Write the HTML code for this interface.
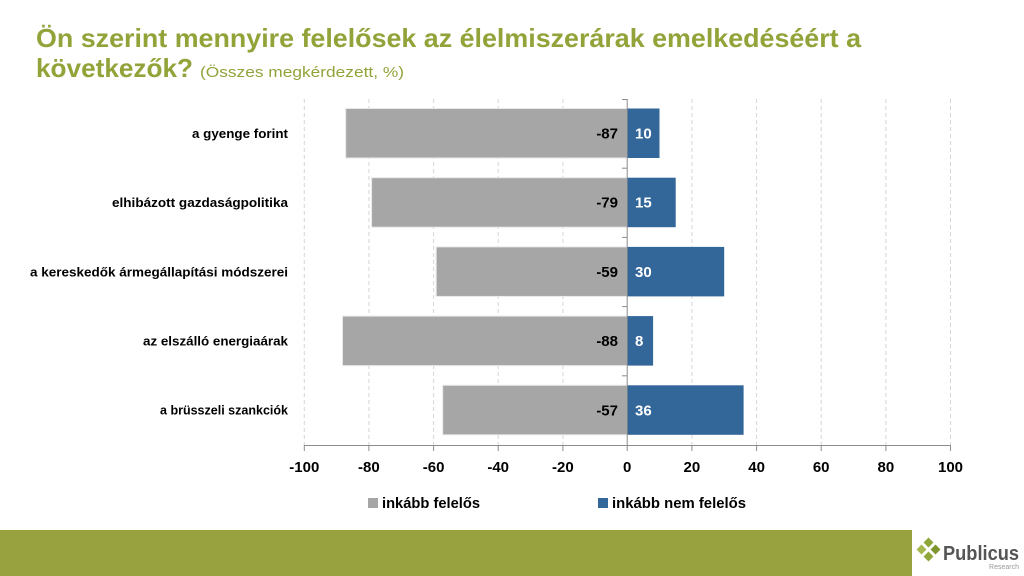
<!DOCTYPE html>
<html><head><meta charset="utf-8"><style>
html,body{margin:0;padding:0;background:#fff;}
svg{display:block;}
text{font-family:"Liberation Sans",sans-serif;}
</style></head><body>
<svg width="1024" height="576" viewBox="0 0 1024 576" xmlns="http://www.w3.org/2000/svg">
<rect width="1024" height="576" fill="#fff"/>
<!-- Title -->
<text x="36" y="47" font-size="26" font-weight="bold" fill="#93A33A" textLength="825" lengthAdjust="spacingAndGlyphs">Ön szerint mennyire felelősek az élelmiszerárak emelkedéséért a</text>
<text x="36" y="77" font-size="26" font-weight="bold" fill="#93A33A" textLength="157" lengthAdjust="spacingAndGlyphs">következők?</text>
<text x="200" y="77" font-size="15" fill="#93A33A" textLength="204" lengthAdjust="spacingAndGlyphs">(Összes megkérdezett, %)</text>

<!-- gridlines -->
<g stroke="#D6D6D6" stroke-width="1" stroke-dasharray="4,3">
<line x1="304.3" y1="99" x2="304.3" y2="445"/>
<line x1="368.9" y1="99" x2="368.9" y2="445"/>
<line x1="433.6" y1="99" x2="433.6" y2="445"/>
<line x1="498.2" y1="99" x2="498.2" y2="445"/>
<line x1="562.9" y1="99" x2="562.9" y2="445"/>
<line x1="691.9" y1="99" x2="691.9" y2="445"/>
<line x1="756.6" y1="99" x2="756.6" y2="445"/>
<line x1="821.2" y1="99" x2="821.2" y2="445"/>
<line x1="885.9" y1="99" x2="885.9" y2="445"/>
<line x1="950.5" y1="99" x2="950.5" y2="445"/>
</g>

<!-- bars -->
<g stroke="#E8E8E8" stroke-width="1">
<rect x="345.7" y="108.5" width="281.5" height="49.5" fill="#A6A6A6"/>
<rect x="371.6" y="177.7" width="255.6" height="49.5" fill="#A6A6A6"/>
<rect x="436.2" y="246.9" width="191.0" height="49.5" fill="#A6A6A6"/>
<rect x="342.5" y="316.1" width="284.7" height="49.5" fill="#A6A6A6"/>
<rect x="442.7" y="385.3" width="184.5" height="49.5" fill="#A6A6A6"/>
</g>
<g fill="#336699">
<rect x="627.2" y="108.5" width="32.3" height="49.5"/>
<rect x="627.2" y="177.7" width="48.5" height="49.5"/>
<rect x="627.2" y="246.9" width="97.0" height="49.5"/>
<rect x="627.2" y="316.1" width="25.9" height="49.5"/>
<rect x="627.2" y="385.3" width="116.4" height="49.5"/>
</g>

<!-- axes -->
<g stroke="#8C8C8C" stroke-width="1">
<line x1="627.2" y1="99" x2="627.2" y2="445"/>
<line x1="622" y1="99.5" x2="627.2" y2="99.5"/>
<line x1="622" y1="168.2" x2="627.2" y2="168.2"/>
<line x1="622" y1="237.4" x2="627.2" y2="237.4"/>
<line x1="622" y1="306.6" x2="627.2" y2="306.6"/>
<line x1="622" y1="375.8" x2="627.2" y2="375.8"/>
<line x1="304" y1="445.5" x2="951" y2="445.5"/>
<line x1="304.3" y1="445" x2="304.3" y2="451"/>
<line x1="368.9" y1="445" x2="368.9" y2="451"/>
<line x1="433.6" y1="445" x2="433.6" y2="451"/>
<line x1="498.2" y1="445" x2="498.2" y2="451"/>
<line x1="562.9" y1="445" x2="562.9" y2="451"/>
<line x1="627.2" y1="445" x2="627.2" y2="451"/>
<line x1="691.9" y1="445" x2="691.9" y2="451"/>
<line x1="756.6" y1="445" x2="756.6" y2="451"/>
<line x1="821.2" y1="445" x2="821.2" y2="451"/>
<line x1="885.9" y1="445" x2="885.9" y2="451"/>
<line x1="950.5" y1="445" x2="950.5" y2="451"/>
</g>

<!-- category labels -->
<g font-size="13" font-weight="bold" fill="#000" text-anchor="end">
<text x="288" y="138" textLength="96" lengthAdjust="spacingAndGlyphs">a gyenge forint</text>
<text x="288" y="207" textLength="176" lengthAdjust="spacingAndGlyphs">elhibázott gazdaságpolitika</text>
<text x="288" y="276.5" textLength="258" lengthAdjust="spacingAndGlyphs">a kereskedők ármegállapítási módszerei</text>
<text x="288" y="345.5" textLength="145" lengthAdjust="spacingAndGlyphs">az elszálló energiaárak</text>
<text x="288" y="414.5" textLength="128" lengthAdjust="spacingAndGlyphs">a brüsszeli szankciók</text>
</g>

<!-- data labels -->
<g font-size="15" font-weight="bold" fill="#000" text-anchor="end">
<text x="618" y="138.5">-87</text>
<text x="618" y="207.7">-79</text>
<text x="618" y="276.9">-59</text>
<text x="618" y="346.1">-88</text>
<text x="618" y="415.3">-57</text>
</g>
<g font-size="15" font-weight="bold" fill="#fff">
<text x="635" y="138.5">10</text>
<text x="635" y="207.7">15</text>
<text x="635" y="276.9">30</text>
<text x="635" y="346.1">8</text>
<text x="635" y="415.3">36</text>
</g>

<!-- tick labels -->
<g font-size="15" font-weight="bold" fill="#000" text-anchor="middle">
<text x="304.3" y="472">-100</text>
<text x="368.9" y="472">-80</text>
<text x="433.6" y="472">-60</text>
<text x="498.2" y="472">-40</text>
<text x="562.9" y="472">-20</text>
<text x="627.2" y="472">0</text>
<text x="691.9" y="472">20</text>
<text x="756.6" y="472">40</text>
<text x="821.2" y="472">60</text>
<text x="885.9" y="472">80</text>
<text x="950.5" y="472">100</text>
</g>

<!-- legend -->
<rect x="368" y="498" width="10" height="10" fill="#A6A6A6"/>
<text x="382" y="508" font-size="14.5" font-weight="bold" fill="#000" textLength="98" lengthAdjust="spacingAndGlyphs">inkább felelős</text>
<rect x="598" y="498" width="10" height="10" fill="#336699"/>
<text x="612" y="508" font-size="14.5" font-weight="bold" fill="#000" textLength="134" lengthAdjust="spacingAndGlyphs">inkább nem felelős</text>

<!-- footer -->
<rect x="0" y="530" width="912" height="46" fill="#98A33F"/>
<!-- logo icon -->
<g fill="#8FA63A">
<rect x="925" y="539" width="7" height="7" transform="rotate(45 928.5 542.5)"/>
<rect x="918" y="546" width="7" height="7" transform="rotate(45 921.5 549.5)" fill="#A3B84E"/>
<rect x="932" y="546" width="7" height="7" transform="rotate(45 935.5 549.5)" fill="#7E9530"/>
<rect x="925" y="553" width="7" height="7" transform="rotate(45 928.5 556.5)"/>
</g>
<text x="943" y="560" font-size="20" font-weight="bold" fill="#555" textLength="76" lengthAdjust="spacingAndGlyphs">Publicus</text>
<text x="1019" y="569" font-size="7" fill="#999" text-anchor="end">Research</text>
</svg>
</body></html>
